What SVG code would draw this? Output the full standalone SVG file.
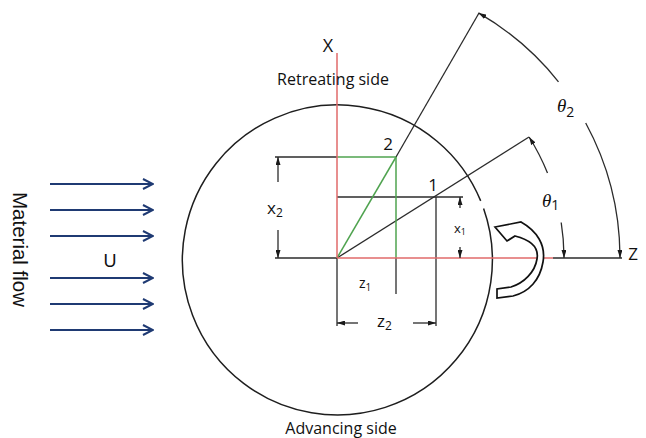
<svg xmlns="http://www.w3.org/2000/svg" width="646" height="438" viewBox="0 0 646 438">
<style>
.ln{stroke:#2b2b2b;stroke-width:1.3;fill:none}
.red{stroke:#e06a6a;stroke-width:1.5;fill:none}
.grn{stroke:#4fa34f;stroke-width:1.5;fill:none}
.dim{stroke:#2b2b2b;stroke-width:1.3;fill:none;marker-end:url(#ah)}
.flow{stroke:#1f3a73;stroke-width:2;fill:none;marker-end:url(#fh)}
.lbl{font-family:"Open Sans",Lato,sans-serif;fill:#111}
.ar{font-family:"Liberation Sans",Arial,sans-serif;fill:#111}
.th{font-family:"Liberation Serif",serif;font-style:italic;fill:#111}
.sub{font-family:"Open Sans",sans-serif;font-style:normal;fill:#111}
</style>
<defs>
<marker id="ah" viewBox="0 0 8 5" refX="8" refY="2.5" markerWidth="8" markerHeight="5" orient="auto" markerUnits="userSpaceOnUse">
<path d="M0,0 L8,2.5 L0,5 z" fill="#1a1a1a"/>
</marker>
<marker id="fh" viewBox="0 0 12 12" refX="11" refY="6" markerWidth="12" markerHeight="12" orient="auto" markerUnits="userSpaceOnUse">
<path d="M1,1 L11,6 L1,11" fill="none" stroke="#1f3a73" stroke-width="2"/>
</marker>
</defs>
<rect width="646" height="438" fill="#fff"/>

<g id="material-flow">
<text class="ar" transform="translate(13,192) rotate(90)" font-size="20.5">Material flow</text>
<text class="ar" x="110" y="267" text-anchor="middle" font-size="18">U</text>
</g>

<g id="flow-arrows">
<line class="flow" x1="50" y1="184" x2="153" y2="184"/>
<line class="flow" x1="50" y1="210" x2="153" y2="210"/>
<line class="flow" x1="50" y1="236" x2="153" y2="236"/>
<line class="flow" x1="50" y1="278" x2="153" y2="278"/>
<line class="flow" x1="50" y1="304" x2="153" y2="304"/>
<line class="flow" x1="50" y1="330" x2="153" y2="330"/>
</g>

<g id="tool-circle">
<path d="M480.7,200.9 A155,155 0 1 0 483.6,208.5" stroke="#1e1e1e" stroke-width="1.5" fill="none"/>
</g>

<g id="connectors">
<line class="ln" x1="275" y1="157" x2="337" y2="157"/>
<line class="ln" x1="275" y1="258" x2="337" y2="258"/>
<line class="ln" x1="337" y1="197" x2="463" y2="197"/>
<line class="ln" x1="337" y1="258" x2="337" y2="326"/>
<line class="ln" x1="396" y1="258" x2="396" y2="294"/>
<line class="ln" x1="436" y1="197" x2="436" y2="326"/>
<line class="ln" x1="553" y1="258" x2="622" y2="258"/>
<line class="ln" x1="337" y1="258" x2="529" y2="137"/>
<line class="ln" x1="396" y1="157" x2="479" y2="13"/>
<line class="grn" x1="337" y1="157" x2="396" y2="157"/>
<line class="grn" x1="396" y1="157" x2="396" y2="258"/>
<line class="grn" x1="337" y1="258" x2="396" y2="157"/>
<line class="red" x1="337" y1="53" x2="337" y2="258"/>
<line class="red" x1="337" y1="258" x2="553" y2="258"/>
<line class="dim" x1="278" y1="182" x2="278" y2="157"/>
<line class="dim" x1="278" y1="230" x2="278" y2="258"/>
<line class="dim" x1="460" y1="208" x2="460" y2="197"/>
<line class="dim" x1="460" y1="247" x2="460" y2="258"/>
<line class="dim" x1="358" y1="323" x2="337" y2="323"/>
<line class="dim" x1="413" y1="323" x2="436" y2="323"/>
<path class="dim" d="M558.5,81.8 A283,283 0 0 0 478.5,12.9"/>
<path class="dim" d="M585.7,123 A283,283 0 0 1 620,258"/>
<path class="dim" d="M547.5,173 A227,227 0 0 0 529.1,137"/>
<path class="dim" d="M561.2,222.5 A227,227 0 0 1 564,258"/>
</g>

<g id="rotation-arrow">
<path d="M495,227 L521,222 C537,231 546,245 543,262 C540,280 529,292 513,296 L497,298 L497,289 L511,287 C524,283 535,272 537,259 C539,248 531,240 515,236 L507,241 Z" fill="#fff" stroke="#111" stroke-width="1.7" stroke-linejoin="miter"/>
</g>

<g id="labels">
<text class="lbl" x="328" y="52" text-anchor="middle" font-size="18">X</text>
<text class="lbl" x="633" y="260" text-anchor="middle" font-size="17">Z</text>
<text class="lbl" x="333" y="85" text-anchor="middle" font-size="16">Retreating side</text>
<text class="lbl" x="341" y="434" text-anchor="middle" font-size="16">Advancing side</text>
<text class="lbl" x="388" y="150" text-anchor="middle" font-size="17">2</text>
<text class="lbl" x="433" y="191" text-anchor="middle" font-size="17">1</text>
<text class="lbl" x="267" y="214" font-size="17">x<tspan font-size="12" dy="3">2</tspan></text>
<text class="lbl" x="454" y="233" font-size="13">x<tspan font-size="9" dy="2">1</tspan></text>
<text class="lbl" x="359" y="288" font-size="14">z<tspan font-size="10" dy="3">1</tspan></text>
<text class="lbl" x="377" y="327" font-size="17">z<tspan font-size="12" dy="3">2</tspan></text>
<text class="th" x="557" y="112" font-size="19">θ<tspan class="sub" font-size="14" dy="5">2</tspan></text>
<text class="th" x="542" y="207" font-size="19">θ<tspan class="sub" font-size="14" dy="3">1</tspan></text>
</g>
</svg>
